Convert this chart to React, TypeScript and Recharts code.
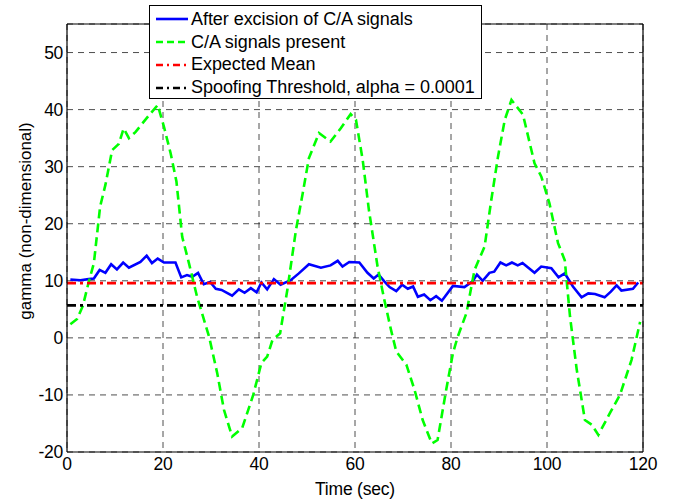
import React from 'react';
import { LineChart, Line, XAxis, YAxis, CartesianGrid, Legend } from 'recharts';

const xTicks = [0, 20, 40, 60, 80, 100, 120];
const yTicks = [-20, -10, 0, 10, 20, 30, 40, 50];

// after excision of C/A signals (blue)
const blueT = [0.7, 2.8, 4.5, 5.6, 6.8, 8.0, 9.2, 10.4, 11.7, 12.9, 15.3, 16.6, 17.7, 18.9, 20.2, 22.6, 23.8, 25.0, 26.1, 27.3, 28.5, 29.8, 31.0, 32.2, 34.4, 35.8, 37.0, 38.3, 39.5, 40.5, 41.7, 43.1, 44.5, 46.6, 48.3, 50.4, 52.9, 54.9, 56.4, 57.4, 58.8, 60.9, 62.6, 63.9, 64.9, 66.1, 67.2, 68.6, 69.8, 71.0, 72.1, 73.1, 74.4, 75.7, 76.9, 78.1, 80.4, 82.8, 84.5, 85.4, 86.6, 88.0, 89.0, 90.3, 91.5, 92.7, 93.9, 94.9, 97.4, 98.8, 100.9, 102.4, 103.7, 105.4, 107.2, 108.6, 110.0, 112.0, 113.3, 114.5, 115.5, 117.9, 119.0];
const blueV = [10.2, 10.1, 10.3, 10.4, 11.9, 11.4, 12.9, 12.0, 13.2, 12.3, 13.3, 14.4, 13.1, 13.9, 13.2, 13.2, 10.6, 11.0, 10.7, 11.4, 9.4, 9.8, 8.6, 8.4, 7.4, 8.5, 7.9, 8.7, 8.0, 9.7, 8.5, 10.3, 9.3, 10.1, 11.3, 12.9, 12.3, 12.7, 13.5, 12.5, 13.3, 13.2, 11.4, 10.4, 11.1, 9.9, 8.9, 8.2, 9.3, 8.6, 9.0, 7.2, 7.6, 6.6, 7.3, 6.5, 9.1, 8.9, 9.9, 11.1, 10.0, 11.4, 11.6, 13.2, 12.7, 13.2, 12.7, 13.1, 11.4, 12.5, 12.2, 10.6, 11.3, 9.0, 7.1, 7.8, 7.7, 7.1, 8.1, 9.2, 8.3, 8.6, 9.7];

// C/A signals present (green)
const greenT = [0.7, 2.1, 3.3, 4.5, 5.6, 6.9, 8.0, 9.4, 10.8, 11.8, 12.9, 14.3, 16.3, 17.7, 18.9, 20.2, 21.6, 22.8, 24.0, 25.4, 27.1, 29.6, 31.3, 32.7, 34.4, 36.5, 38.8, 40.5, 41.7, 42.8, 44.4, 45.9, 47.7, 49.1, 50.4, 52.5, 54.9, 57.0, 59.1, 60.2, 61.6, 62.9, 64.7, 66.1, 67.5, 68.6, 70.7, 72.4, 74.1, 76.0, 77.2, 79.0, 80.4, 81.4, 83.2, 84.9, 87.0, 88.4, 89.8, 91.2, 92.6, 95.0, 97.4, 98.8, 100.5, 102.3, 103.7, 104.8, 106.2, 107.9, 109.3, 110.7, 113.1, 115.2, 117.6, 119.4];
const greenV = [2.4, 3.3, 5.6, 9.7, 13.1, 23.0, 26.8, 32.9, 34.0, 36.7, 35.0, 36.1, 38.2, 39.6, 40.8, 37.0, 32.3, 27.4, 17.7, 13.1, 7.2, 0.2, -6.2, -12.6, -17.3, -15.8, -10.0, -4.4, -3.3, -0.4, 0.8, 8.4, 18.9, 25.3, 31.5, 35.9, 34.4, 36.7, 39.2, 38.2, 31.2, 22.4, 12.5, 6.7, 1.4, -2.4, -4.7, -9.1, -14.4, -18.5, -17.9, -9.1, -2.7, 0.2, 4.3, 11.9, 16.0, 24.2, 31.8, 38.2, 41.7, 39.1, 30.6, 28.3, 23.6, 16.6, 13.6, 3.7, -5.6, -14.4, -15.2, -17.0, -13.2, -10.0, -3.9, 2.8];

const expectedMean = 9.6;
const spoofThreshold = 5.7;

const rows = (ts: number[], vs: number[]) => ts.map((t, i) => ({ t, v: vs[i] }));
const flat = (v: number) => [{ t: 0, v }, { t: 120, v }];

const series = [
  { name: 'After excision of C/A signals', color: '#0000ff', dash: undefined as string | undefined, key: '', data: rows(blueT, blueV) },
  { name: 'C/A signals present', color: '#00ff00', dash: '9 5', key: '7 4', data: rows(greenT, greenV) },
  { name: 'Expected Mean', color: '#ff0000', dash: '9 4 3 4', key: '7 4 2 4', data: flat(expectedMean) },
  { name: 'Spoofing Threshold, alpha = 0.0001', color: '#000000', dash: '9 4 3 4', key: '7 4 2 4', data: flat(spoofThreshold) },
];

const font = '"Liberation Sans", Arial, sans-serif';

const renderLegend = () => (
  <div style={{ background: '#fff', border: '1px solid #000', width: 333, height: 94, boxSizing: 'border-box', paddingTop: 2 }}>
    {series.map((s) => (
      <div key={s.name} style={{ display: 'flex', alignItems: 'center', height: 22.8 }}>
        <svg width={38} height={10} style={{ marginLeft: 5 }}>
          <line x1={1} y1={5} x2={33} y2={5} stroke={s.color} strokeWidth={2.6} strokeDasharray={s.key || undefined} />
        </svg>
        <span style={{ fontFamily: font, fontSize: 18, letterSpacing: -0.05, color: '#000', marginLeft: -2, whiteSpace: 'nowrap' }}>{s.name}</span>
      </div>
    ))}
  </div>
);

const tickStyle = { fill: '#000', fontSize: 17.5, fontFamily: font, letterSpacing: -0.3 };

export default function App() {
  return (
    <div style={{ position: 'absolute', left: 0, top: 0, background: '#fff' }}>
      <LineChart width={683} height={499} margin={{ top: 24, right: 40, left: 0, bottom: 0 }}>
        <CartesianGrid stroke="#222" strokeWidth={0.8} strokeDasharray="6 5" />
        <XAxis dataKey="t" type="number" domain={[0, 120]} ticks={xTicks} allowDataOverflow height={47}
          tickLine={false} tickSize={0} tickMargin={6} tick={tickStyle} axisLine={{ stroke: '#000', strokeWidth: 1.2 }}
          label={{ value: 'Time (sec)', position: 'insideBottom', offset: 4, style: { fill: '#000', fontSize: 17.5, fontFamily: font, letterSpacing: -0.2 } }} />
        <XAxis xAxisId="top" orientation="top" mirror type="number" dataKey="t" domain={[0, 120]} ticks={xTicks} allowDataOverflow
          tick={false} tickSize={5} tickLine={{ stroke: '#000' }} axisLine={{ stroke: '#000', strokeWidth: 1.2 }} />
        <XAxis xAxisId="bin" orientation="bottom" mirror type="number" dataKey="t" domain={[0, 120]} ticks={xTicks} allowDataOverflow
          tick={false} tickSize={5} tickLine={{ stroke: '#000' }} axisLine={false} />
        <YAxis type="number" domain={[-20, 55]} ticks={yTicks} allowDataOverflow width={67}
          tickLine={false} tickSize={0} tickMargin={4} tick={tickStyle} axisLine={{ stroke: '#000', strokeWidth: 1.2 }}
          label={(props: any) => {
            const vb = props.viewBox || {};
            const cy = (vb.y ?? 24) + (vb.height ?? 428) / 2 - 17;
            return (
              <text x={25} y={cy} transform={`rotate(-90, 25, ${cy})`} textAnchor="middle" dominantBaseline="central"
                style={{ fill: '#000', fontSize: 17, fontFamily: font }}>
                gamma (non-dimensional)
              </text>
            );
          }} />
        <YAxis yAxisId="lin" orientation="left" mirror type="number" domain={[-20, 55]} ticks={yTicks} allowDataOverflow
          tick={false} tickSize={5} tickLine={{ stroke: '#000' }} axisLine={false} />
        <YAxis yAxisId="rin" orientation="right" mirror type="number" domain={[-20, 55]} ticks={yTicks} allowDataOverflow
          tick={false} tickSize={5} tickLine={{ stroke: '#000' }} axisLine={{ stroke: '#000', strokeWidth: 1.2 }} />
        {series.map((s) => (
          <Line key={s.name} data={s.data} dataKey="v" name={s.name} type="linear" stroke={s.color} strokeWidth={2.6}
            strokeDasharray={s.dash} dot={false} activeDot={false} isAnimationActive={false} />
        ))}
        <Legend layout="vertical" verticalAlign="middle" align="center" content={renderLegend}
          wrapperStyle={{ position: 'absolute', left: 149, top: 5, width: 333, height: 94 }} />
      </LineChart>
    </div>
  );
}
